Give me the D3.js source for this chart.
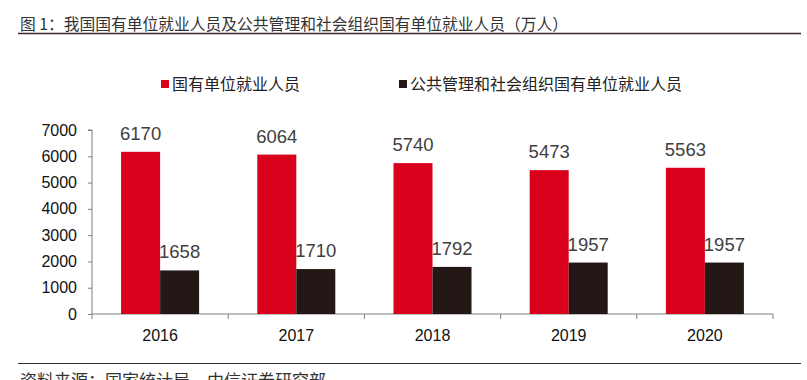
<!DOCTYPE html>
<html>
<head>
<meta charset="utf-8">
<script src="https://cdn.jsdelivr.net/npm/d3@7"></script>
<style>
  body { margin: 0; background: #fff; }
  svg text { font-family: "Liberation Sans", Arial, "Noto Sans CJK SC", sans-serif; }
  .cjk { font-family: "Noto Sans CJK SC", "Liberation Sans", sans-serif; }
</style>
</head>
<body>
<div id="chart"></div>
<script>
// data
const years = ['2016', '2017', '2018', '2019', '2020']
const seriesNames = ['国有单位就业人员', '公共管理和社会组织国有单位就业人员']
const stateOwned = [6170, 6064, 5740, 5473, 5563]
const publicAdmin = [1658, 1710, 1792, 1957, 1957]
const yTicks = [0, 1000, 2000, 3000, 4000, 5000, 6000, 7000]
const colors = ['#d9001b', '#231815']

const width = 807
const height = 380
const margin = {left: 92, right: 34, top: 130, bottom: 66}

const svg = d3.select('#chart').append('svg')
  .attr('width', width)
  .attr('height', height)

// title + rules
svg.append('text')
  .attr('class', 'cjk')
  .attr('x', 20)
  .attr('y', 30)
  .attr('font-size', 16)
  .attr('fill', '#333')
  .attr('textLength', 548)
  .attr('lengthAdjust', 'spacingAndGlyphs')
  .text('图 1：我国国有单位就业人员及公共管理和社会组织国有单位就业人员（万人）')

svg.append('line')
  .attr('x1', 18).attr('x2', 801)
  .attr('y1', 33.5).attr('y2', 33.5)
  .attr('stroke', '#3a2a2a').attr('stroke-width', 1.5)

svg.append('line')
  .attr('x1', 18).attr('x2', 801)
  .attr('y1', 363.5).attr('y2', 363.5)
  .attr('stroke', '#3a2a2a').attr('stroke-width', 1.2)

svg.append('text')
  .attr('class', 'cjk')
  .attr('x', 20)
  .attr('y', 387)
  .attr('font-size', 17)
  .attr('fill', '#333')
  .text('资料来源：国家统计局，中信证券研究部')

// scales
const x = d3.scaleBand()
  .domain(years)
  .range([margin.left, width - margin.right])
  .padding(0)

const xSub = d3.scaleBand()
  .domain([0, 1])
  .range([0, x.bandwidth()])
  .paddingInner(0)
  .paddingOuter(0.746)

const y = d3.scaleLinear()
  .domain([0, 7000])
  .range([height - margin.bottom, margin.top])

// axes
const yAxis = d3.axisLeft(y)
  .tickValues(yTicks)
  .tickSize(4)
  .tickPadding(11)
  .tickFormat(d3.format('d'))

const gy = svg.append('g')
  .attr('transform', 'translate(' + margin.left + ',0)')
  .call(yAxis)
gy.select('.domain').attr('stroke', '#7f7f7f').attr('d', 'M-4,' + y(7000) + 'H0V' + y(0))
gy.selectAll('.tick line').attr('stroke', '#7f7f7f')
gy.selectAll('.tick text')
  .attr('font-size', 16)
  .attr('fill', '#111')
  .attr('font-family', '"Liberation Sans", Arial, sans-serif')

const xAxis = d3.axisBottom(x)
  .tickSize(0)
  .tickPadding(16)

const gx = svg.append('g')
  .attr('transform', 'translate(0,' + y(0) + ')')
  .call(xAxis)
gx.select('.domain').attr('stroke', '#7f7f7f').attr('d', 'M' + margin.left + ',0H' + (width - margin.right))
gx.selectAll('.tick text')
  .attr('font-size', 16)
  .attr('fill', '#111')
  .attr('font-family', '"Liberation Sans", Arial, sans-serif')

// category boundary ticks
const edges = years.map(d => x(d)).concat([x(years[years.length - 1]) + x.bandwidth()])
gx.selectAll('line.edge')
  .data(edges)
  .enter().append('line')
  .attr('class', 'edge')
  .attr('x1', d => d).attr('x2', d => d)
  .attr('y1', 0).attr('y2', 5)
  .attr('stroke', '#7f7f7f')

// bars
const series = [stateOwned, publicAdmin]
series.forEach((vals, i) => {
  const g = svg.append('g').attr('class', 'series-' + i)
  g.selectAll('rect')
    .data(vals)
    .enter().append('rect')
    .attr('x', (d, j) => x(years[j]) + xSub(i))
    .attr('y', d => y(d))
    .attr('width', xSub.bandwidth())
    .attr('height', d => y(0) - y(d))
    .attr('fill', colors[i])

  g.selectAll('text')
    .data(vals)
    .enter().append('text')
    .attr('x', (d, j) => x(years[j]) + xSub(i) + xSub.bandwidth() / 2)
    .attr('y', d => y(d) - 12)
    .attr('text-anchor', 'middle')
    .attr('font-size', 18.5)
    .attr('fill', '#404040')
    .text(d => d)
})

// legend
const legendItems = [{x: 161, name: seriesNames[0], color: colors[0]},
  {x: 399, name: seriesNames[1], color: colors[1]}]
const lg = svg.append('g').attr('class', 'legend')
legendItems.forEach(item => {
  lg.append('rect')
    .attr('x', item.x)
    .attr('y', 80)
    .attr('width', 8)
    .attr('height', 8)
    .attr('fill', item.color)
  lg.append('text')
    .attr('class', 'cjk')
    .attr('x', item.x + 11)
    .attr('y', 90)
    .attr('font-size', 16)
    .attr('fill', '#222')
    .text(item.name)
})
</script>
</body>
</html>
